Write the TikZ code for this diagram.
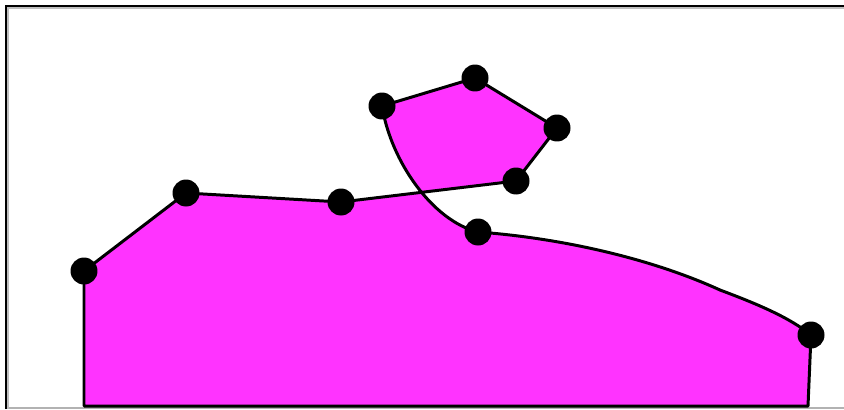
\documentclass[tikz,border=0pt]{standalone}
\definecolor{blobpink}{RGB}{255,51,255}
\begin{document}
\begin{tikzpicture}[
  x=0.02cm, y=-0.02cm,
  dot/.style={circle, fill=black, inner sep=0pt, minimum size=0.54cm},
  outline/.style={draw=black, line width=1.7pt, line join=round, fill=blobpink},
]
  \useasboundingbox (0,0) rectangle (844,409);

  % Frame
  \draw[gray!60, line width=0.8pt] (8,408) -- (844,408);
  \draw[gray!50, line width=1pt] (7.8,409) -- (7.8,7.8) -- (844,7.8);
  \draw[black, line width=1.4pt] (6,409) -- (6,6) -- (844,6);

  % Corner points
  \coordinate (lowleft)  at (84,406);
  \coordinate (lowright) at (808,406);
  \coordinate (p1) at (84,271);
  \coordinate (p2) at (186,193);
  \coordinate (p3) at (341,202);
  \coordinate (p4) at (516,181);
  \coordinate (p5) at (557,128);
  \coordinate (p6) at (475,78);
  \coordinate (p7) at (382,106);
  \coordinate (p8) at (478,232);
  \coordinate (p9) at (811,335);

  % Shape
  \path[outline] (lowleft) -- (p1) -- (p2) -- (p3) -- (p4) -- (p5) -- (p6) -- (p7)
    .. controls (391,162) and (433,221) .. (p8)
    .. controls (560,238) and (650,258) .. (720,290)
    .. controls (760,305) and (790,318) .. (p9)
    -- (lowright) -- cycle;

  % Vertices
  \foreach \p in {p1,p2,p3,p4,p5,p6,p7,p8,p9}
    \node[dot] (dot-\p) at (\p) {};

\end{tikzpicture}
\end{document}
